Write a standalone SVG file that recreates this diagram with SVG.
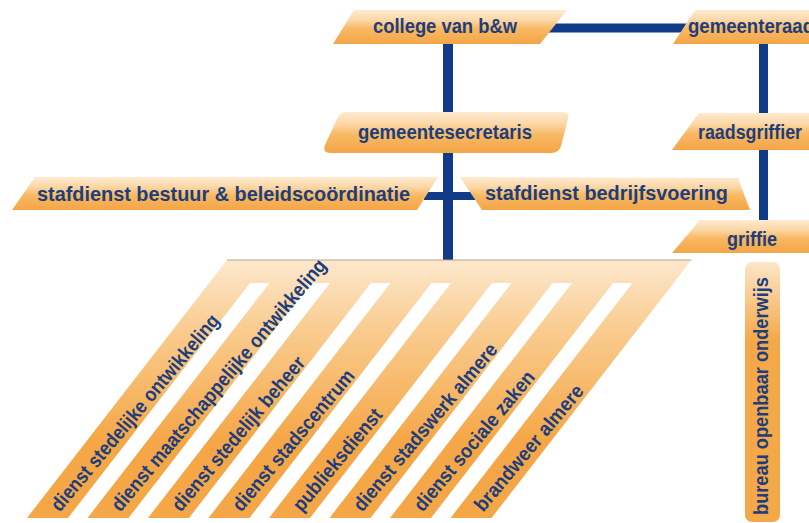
<svg xmlns="http://www.w3.org/2000/svg" width="809" height="523" viewBox="0 0 809 523">
<defs>
<linearGradient id="boxGrad" x1="0" y1="0" x2="0" y2="1">
<stop offset="0" stop-color="#FEEAD0"/>
<stop offset="0.3" stop-color="#FBD7A6"/>
<stop offset="0.55" stop-color="#F7B964"/>
<stop offset="1" stop-color="#F4A546"/>
</linearGradient>
<linearGradient id="combGrad" gradientUnits="userSpaceOnUse" x1="0" y1="260" x2="0" y2="440">
<stop offset="0" stop-color="#FDE8CD"/>
<stop offset="0.4" stop-color="#F9CB8E"/>
<stop offset="1" stop-color="#F5A747"/>
</linearGradient>
<linearGradient id="vertGrad" gradientUnits="userSpaceOnUse" x1="0" y1="262" x2="0" y2="340">
<stop offset="0" stop-color="#FDE6C8"/>
<stop offset="1" stop-color="#F5A848"/>
</linearGradient>
<style>
.box{fill:url(#boxGrad);}
.lbl{font-family:"Liberation Sans",Arial,sans-serif;font-weight:bold;fill:#1C3E7C;}
.t21{font-size:21px;}
.t20{font-size:20px;}
.line{stroke:#0F3B88;fill:none;}
</style>
</defs>

<g id="connectors">
<line class="line" x1="448" y1="44" x2="448" y2="262" stroke-width="10"/>
<line class="line" x1="763.5" y1="44" x2="763.5" y2="222" stroke-width="9"/>
<line class="line" x1="545" y1="28" x2="697" y2="28" stroke-width="9"/>
<line class="line" x1="424" y1="196" x2="480" y2="196" stroke-width="8"/>
</g>

<g id="college">
<polygon class="box" points="354,10 567,10 540,44 333,44"/>
<text class="lbl t21" x="373" y="33" textLength="144" lengthAdjust="spacingAndGlyphs">college van b&amp;w</text>
</g>

<g id="gemeenteraad">
<polygon class="box" points="695,10 812,10 812,44 673,44"/>
<text class="lbl t21" x="688" y="33" textLength="126" lengthAdjust="spacingAndGlyphs">gemeenteraad</text>
</g>

<g id="gemeentesecretaris">
<path class="box" d="M345,112 L563,112 Q570,112 568,119 L561,146 Q559,153 551,153 L331,153 Q322,153 325,145 L337,119 Q340,112 345,112 Z"/>
<text class="lbl t21" x="358" y="139" textLength="174" lengthAdjust="spacingAndGlyphs">gemeentesecretaris</text>
</g>

<g id="raadsgriffier">
<polygon class="box" points="699,113 812,113 812,150 672,150"/>
<text class="lbl t21" x="698" y="139" textLength="104" lengthAdjust="spacingAndGlyphs">raadsgriffier</text>
</g>

<g id="stafdienst-bestuur">
<polygon class="box" points="35,177 438,177 417,210 12,210"/>
<text class="lbl t21" x="37" y="201" textLength="373" lengthAdjust="spacingAndGlyphs">stafdienst bestuur &amp; beleidscoördinatie</text>
</g>

<g id="stafdienst-bedrijfsvoering">
<polygon class="box" points="460,177 738,178 750,210 482,210"/>
<text class="lbl t21" x="485" y="200" textLength="243" lengthAdjust="spacingAndGlyphs">stafdienst bedrijfsvoering</text>
</g>

<g id="griffie">
<polygon class="box" points="700,220 812,220 812,253 672,253"/>
<text class="lbl t21" x="727" y="246" textLength="50" lengthAdjust="spacingAndGlyphs">griffie</text>
</g>

<g id="bureau-openbaar-onderwijs">
<rect x="745" y="262" width="35" height="260" rx="7" fill="url(#vertGrad)"/>
<text class="lbl t20" transform="translate(768,515) rotate(-90)" x="0" y="0" textLength="238" lengthAdjust="spacingAndGlyphs">bureau openbaar onderwijs</text>
</g>

<g id="diensten">
<path fill="url(#combGrad)" d="M27,518 L227,260 L691.5,260 L491.5,518 L450.5,518 L632.5,283 L613,283 L431,518 L390,518 L572,283 L552.5,283 L370.5,518 L329.5,518 L511.5,283 L492,283 L310,518 L269,518 L451,283 L431.5,283 L249.5,518 L208.5,518 L390.5,283 L371,283 L189,518 L148,518 L330,283 L310.5,283 L128.5,518 L87.5,518 L269.5,283 L250,283 L68,518 Z"/>
<line x1="227" y1="260" x2="691.5" y2="260" stroke="#B8A58C" stroke-width="1"/>
<g id="dienst-stedelijke-ontwikkeling" transform="translate(47.5,518) rotate(-50)">
<text class="lbl t20" x="12" y="6" textLength="250" lengthAdjust="spacingAndGlyphs">dienst stedelijke ontwikkeling</text>
</g>
<g id="dienst-maatschappelijke-ontwikkeling" transform="translate(108,518) rotate(-50)">
<text class="lbl t20" x="12" y="6" textLength="322" lengthAdjust="spacingAndGlyphs">dienst maatschappelijke ontwikkeling</text>
</g>
<g id="dienst-stedelijk-beheer" transform="translate(168.5,518) rotate(-50)">
<text class="lbl t20" x="12" y="6" textLength="195" lengthAdjust="spacingAndGlyphs">dienst stedelijk beheer</text>
</g>
<g id="dienst-stadscentrum" transform="translate(229,518) rotate(-50)">
<text class="lbl t20" x="12" y="6" textLength="178" lengthAdjust="spacingAndGlyphs">dienst stadscentrum</text>
</g>
<g id="publieksdienst" transform="translate(289.5,518) rotate(-50)">
<text class="lbl t20" x="12" y="6" textLength="127" lengthAdjust="spacingAndGlyphs">publieksdienst</text>
</g>
<g id="dienst-stadswerk-almere" transform="translate(350,518) rotate(-50)">
<text class="lbl t20" x="12" y="6" textLength="212" lengthAdjust="spacingAndGlyphs">dienst stadswerk almere</text>
</g>
<g id="dienst-sociale-zaken" transform="translate(410.5,518) rotate(-50)">
<text class="lbl t20" x="12" y="6" textLength="176" lengthAdjust="spacingAndGlyphs">dienst sociale zaken</text>
</g>
<g id="brandweer-almere" transform="translate(471,518) rotate(-50)">
<text class="lbl t20" x="12" y="6" textLength="158" lengthAdjust="spacingAndGlyphs">brandweer almere</text>
</g>
</g>
</svg>
